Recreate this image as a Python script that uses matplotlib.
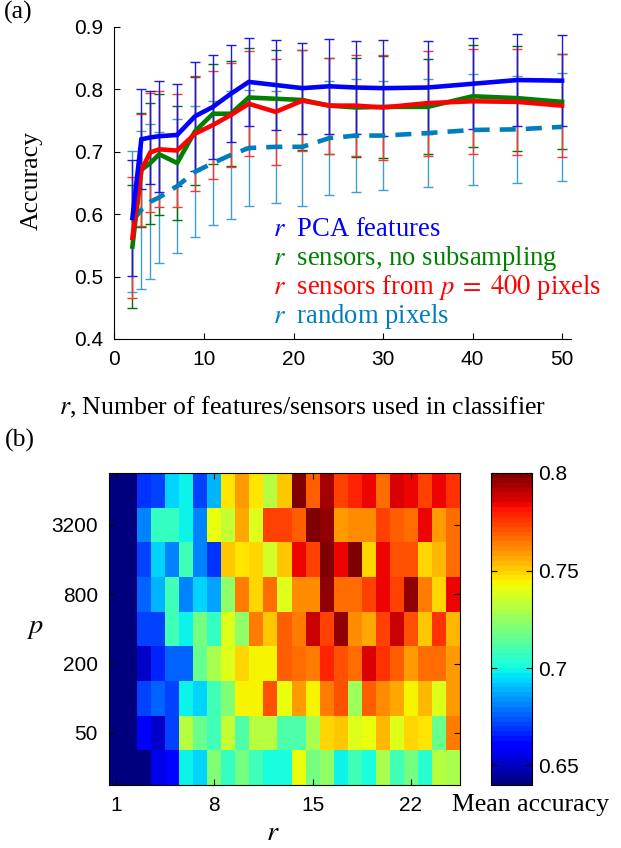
import numpy as np
import matplotlib
matplotlib.use('Agg')
import matplotlib.pyplot as plt

plt.rcParams['font.family'] = ['Liberation Sans', 'DejaVu Sans']
plt.rcParams['mathtext.fontset'] = 'stix'
SERIF = 'Liberation Serif'

# (a) accuracy vs number of features r
r_vals = [2, 3, 4, 5, 7, 9, 11, 13, 15, 18, 21, 24, 27, 30, 35, 40, 45, 50]

pca_mean = [0.594, 0.720, 0.723, 0.725, 0.727, 0.757, 0.772, 0.793, 0.812, 0.807,
            0.802, 0.805, 0.803, 0.802, 0.803, 0.809, 0.815, 0.814]
pca_std = [0.093, 0.080, 0.074, 0.089, 0.082, 0.087, 0.083, 0.078, 0.071, 0.072,
           0.073, 0.076, 0.074, 0.077, 0.074, 0.073, 0.073, 0.073]

full_mean = [0.548, 0.671, 0.682, 0.696, 0.682, 0.733, 0.761, 0.761, 0.787, 0.785,
             0.783, 0.774, 0.771, 0.772, 0.772, 0.789, 0.786, 0.780]
full_std = [0.099, 0.091, 0.097, 0.097, 0.091, 0.087, 0.080, 0.084, 0.079, 0.078,
            0.080, 0.077, 0.079, 0.082, 0.076, 0.082, 0.084, 0.076]

sub_mean = [0.562, 0.671, 0.699, 0.704, 0.702, 0.729, 0.743, 0.759, 0.777, 0.764,
            0.782, 0.774, 0.774, 0.771, 0.778, 0.781, 0.780, 0.774]
sub_std = [0.097, 0.090, 0.095, 0.093, 0.091, 0.092, 0.086, 0.083, 0.084, 0.085,
           0.081, 0.077, 0.081, 0.084, 0.084, 0.084, 0.085, 0.083]

rand_mean = [0.589, 0.607, 0.620, 0.627, 0.645, 0.668, 0.682, 0.695, 0.706, 0.708,
             0.708, 0.722, 0.726, 0.726, 0.730, 0.735, 0.736, 0.740]
rand_std = [0.113, 0.127, 0.124, 0.105, 0.107, 0.105, 0.100, 0.102, 0.093, 0.090,
            0.095, 0.092, 0.090, 0.088, 0.087, 0.089, 0.086, 0.086]

# (b) mean accuracy, rows p (top to bottom), columns r = 1..25
p_vals = [6400, 3200, 1600, 800, 400, 200, 100, 50, 25]
r_cols = list(range(1, 26))
acc_grid = [
    [0.640, 0.640, 0.668, 0.670, 0.694, 0.700, 0.672, 0.690, 0.746, 0.758, 0.746, 0.732, 0.752,
     0.800, 0.770, 0.793, 0.775, 0.780, 0.783, 0.767, 0.787, 0.783, 0.774, 0.784, 0.777],
    [0.640, 0.640, 0.680, 0.707, 0.707, 0.700, 0.682, 0.742, 0.733, 0.756, 0.740, 0.775, 0.774,
     0.768, 0.798, 0.797, 0.758, 0.761, 0.761, 0.775, 0.769, 0.766, 0.783, 0.758, 0.767],
    [0.640, 0.640, 0.672, 0.694, 0.682, 0.708, 0.682, 0.668, 0.751, 0.746, 0.749, 0.737, 0.752,
     0.783, 0.774, 0.798, 0.783, 0.798, 0.750, 0.783, 0.772, 0.772, 0.748, 0.755, 0.766],
    [0.640, 0.640, 0.675, 0.690, 0.708, 0.682, 0.694, 0.685, 0.724, 0.763, 0.749, 0.767, 0.740,
     0.762, 0.762, 0.797, 0.766, 0.766, 0.774, 0.783, 0.774, 0.796, 0.764, 0.750, 0.784],
    [0.640, 0.640, 0.670, 0.670, 0.710, 0.700, 0.720, 0.706, 0.740, 0.724, 0.764, 0.751, 0.768,
     0.763, 0.789, 0.774, 0.795, 0.762, 0.757, 0.774, 0.789, 0.772, 0.751, 0.777, 0.753],
    [0.640, 0.640, 0.650, 0.665, 0.675, 0.675, 0.717, 0.729, 0.740, 0.748, 0.745, 0.745, 0.769,
     0.766, 0.764, 0.780, 0.772, 0.766, 0.786, 0.777, 0.768, 0.758, 0.767, 0.767, 0.760],
    [0.640, 0.640, 0.670, 0.675, 0.672, 0.700, 0.694, 0.708, 0.722, 0.745, 0.745, 0.772, 0.742,
     0.758, 0.744, 0.764, 0.772, 0.726, 0.769, 0.762, 0.757, 0.743, 0.753, 0.740, 0.758],
    [0.640, 0.640, 0.658, 0.651, 0.670, 0.732, 0.716, 0.708, 0.735, 0.711, 0.732, 0.732, 0.712,
     0.712, 0.729, 0.748, 0.752, 0.740, 0.741, 0.755, 0.740, 0.750, 0.746, 0.716, 0.764],
    [0.640, 0.640, 0.640, 0.657, 0.662, 0.700, 0.695, 0.722, 0.706, 0.718, 0.710, 0.702, 0.702,
     0.742, 0.718, 0.724, 0.700, 0.708, 0.702, 0.729, 0.708, 0.718, 0.704, 0.732, 0.730],
]
p_ticks = [3200, 800, 200, 50]
r_ticks = [1, 8, 15, 22]
cbar_ticks = [0.65, 0.7, 0.75, 0.8]

W, H = 621, 848
fig = plt.figure(figsize=(W / 100, H / 100), dpi=100)


def box(x0, y0, x1, y1):
    # pixel box -> figure fraction
    return [x0 / W, 1 - y1 / H, (x1 - x0) / W, (y1 - y0) / H]


TXT = 18.5
TICK = 15

#(a) line plot with error bars
ax = fig.add_axes(box(114.5, 27, 571, 339))
series = [
    (rand_mean, rand_std, (0.0, 0.49, 0.74), (0.25, 0.62, 0.82), '--'),
    (full_mean, full_std, (0.0, 0.5, 0.0), (0.0, 0.45, 0.0), '-'),
    (sub_mean, sub_std, (1.0, 0.0, 0.0), (1.0, 0.2, 0.2), '-'),
    (pca_mean, pca_std, (0.0, 0.0, 1.0), (0.1, 0.1, 0.9), '-'),
]
for mean, std, col, ecol, ls in series:
    ax.errorbar(r_vals, mean, yerr=std, fmt='none', ecolor=ecol, elinewidth=1,
                capsize=3.5, capthick=1)
for mean, std, col, ecol, ls in series:
    if ls == '--':
        ax.plot(r_vals, mean, color=col, lw=3.3, dashes=(3.5, 2.2))
    else:
        ax.plot(r_vals, mean, color=col, lw=3.3, solid_joinstyle='miter')

ax.set_xlim(0, 51)
ax.set_ylim(0.4, 0.9)
ax.set_xticks([0, 10, 20, 30, 40, 50])
ax.set_yticks([0.4, 0.5, 0.6, 0.7, 0.8, 0.9])
ax.set_yticklabels(['0.4', '0.5', '0.6', '0.7', '0.8', '0.9'])
ax.spines['top'].set_visible(False)
ax.spines['right'].set_visible(False)
ax.tick_params(direction='in', length=4, labelsize=TICK, pad=8)
fig.text(32 / W, 1 - 181 / H, 'Accuracy', family=SERIF, fontsize=TXT, rotation=90,
         ha='center', va='center')

legend_txt = [('$r$  PCA features', (0.0, 0.0, 1.0)),
              ('$r$  sensors, no subsampling', (0.0, 0.5, 0.0)),
              ('$r$  sensors from $p\\;=\\;400$ pixels', (1.0, 0.0, 0.0)),
              ('$r$  random pixels', (0.0, 0.49, 0.74))]
for i, (t, c) in enumerate(legend_txt):
    fig.text(273 / W, 1 - (235.5 + 29.3 * i) / H, t, color=c, family=SERIF,
             fontsize=19.2, va='baseline', ha='left')

fig.text(303 / W, 1 - 407 / H, '$r$, Number of features/sensors used in classifier',
         family=SERIF, fontsize=TXT, ha='center', va='center')
fig.text(18 / W, 1 - 12 / H, '(a)', family=SERIF, fontsize=TXT, ha='center', va='center')
fig.text(20 / W, 1 - 440 / H, '(b)', family=SERIF, fontsize=TXT, ha='center', va='center')

#(b) heatmap
ax2 = fig.add_axes(box(109, 473, 460, 785))
cmap = plt.get_cmap('jet', 64)
im = ax2.imshow(np.array(acc_grid), cmap=cmap, vmin=0.64, vmax=0.80, aspect='auto',
                interpolation='nearest',
                extent=(0.5, len(r_cols) + 0.5, 0.5, len(p_vals) + 0.5))
ax2.set_xticks(r_ticks)
ax2.set_xticklabels([str(v) for v in r_ticks])
ax2.set_yticks([len(p_vals) - p_vals.index(p) for p in p_ticks])
ax2.set_yticklabels([str(p) for p in p_ticks])
ax2.tick_params(direction='in', length=4, labelsize=TICK, top=True, right=True, pad=8)
fig.text(35 / W, 1 - 628 / H, '$p$', fontsize=TXT + 2, ha='center', va='center')
fig.text(273 / W, 1 - 833 / H, '$r$', fontsize=TXT + 2, ha='center', va='center')

cax = fig.add_axes(box(490.5, 473, 531.5, 785))
cb = fig.colorbar(im, cax=cax, ticks=cbar_ticks)
cb.ax.set_yticklabels(['0.65', '0.7', '0.75', '0.8'])
cb.ax.tick_params(direction='in', length=4, labelsize=TICK, left=True, pad=5)
cb.outline.set_linewidth(0.8)
fig.text(530 / W, 1 - 805 / H, 'Mean accuracy', family=SERIF, fontsize=TXT,
         ha='center', va='center')

fig.savefig('out.png', dpi=100)
